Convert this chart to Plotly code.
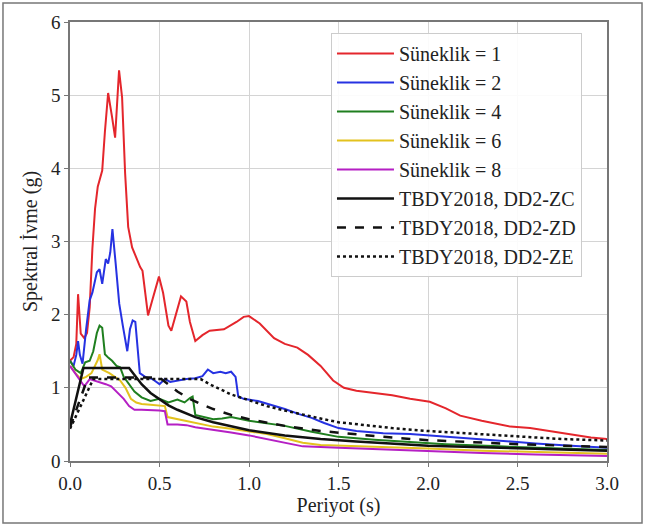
import plotly.graph_objects as go

# ---- data ----
T_mu1 = [0, 0.02, 0.035, 0.045, 0.06, 0.08, 0.095, 0.11, 0.125, 0.14, 0.155, 0.18, 0.195, 0.213, 0.235,
         0.252, 0.274, 0.291, 0.308, 0.325, 0.347, 0.37, 0.392, 0.405, 0.436, 0.46, 0.497, 0.52, 0.55,
         0.566, 0.6, 0.62, 0.65, 0.67, 0.70, 0.74, 0.78, 0.86, 0.93, 0.97, 1.0, 1.06, 1.14, 1.2, 1.27,
         1.33, 1.4, 1.47, 1.53, 1.6, 1.7, 1.8, 1.9, 2.01, 2.1, 2.18, 2.3, 2.46, 2.57, 2.7, 2.8, 2.91, 3.0]
Sa_mu1 = [1.37, 1.42, 1.6, 2.28, 1.74, 1.68, 1.75, 2.1, 2.9, 3.45, 3.75, 3.97, 4.5, 5.03, 4.7,
          4.42, 5.34, 4.97, 3.93, 3.2, 2.92, 2.78, 2.65, 2.6, 1.99, 2.2, 2.52, 2.3, 1.85,
          1.78, 2.1, 2.25, 2.18, 1.9, 1.64, 1.72, 1.78, 1.80, 1.9, 1.97, 1.98, 1.88, 1.68, 1.6, 1.55,
          1.45, 1.3, 1.1, 1.0, 0.96, 0.93, 0.9, 0.85, 0.81, 0.72, 0.62, 0.55, 0.47, 0.45, 0.40, 0.36, 0.32, 0.30]

T_mu2 = [0, 0.02, 0.035, 0.045, 0.055, 0.07, 0.09, 0.11, 0.125, 0.15, 0.165, 0.18, 0.2, 0.213, 0.225,
         0.237, 0.255, 0.275, 0.295, 0.32, 0.335, 0.35, 0.365, 0.375, 0.39, 0.42, 0.46, 0.5, 0.53, 0.56,
         0.6, 0.65, 0.7, 0.74, 0.77, 0.8, 0.84, 0.87, 0.9, 0.925, 0.94, 0.97, 1.05, 1.12, 1.2,
         1.28, 1.35, 1.42, 1.5, 1.6, 1.75, 1.9, 2.0, 2.2, 2.4, 2.6, 2.8, 3.0]
Sa_mu2 = [1.37, 1.30, 1.45, 1.64, 1.45, 1.33, 1.8, 2.2, 2.3, 2.58, 2.62, 2.42, 2.76, 2.7, 2.85,
          3.17, 2.7, 2.15, 1.85, 1.5, 1.8, 1.92, 1.9, 1.6, 1.2, 1.15, 1.12, 1.05, 1.12, 1.08,
          1.1, 1.12, 1.13, 1.16, 1.25, 1.2, 1.22, 1.2, 1.22, 1.15, 0.88, 0.85, 0.82, 0.77, 0.71,
          0.64, 0.59, 0.52, 0.45, 0.41, 0.38, 0.37, 0.35, 0.31, 0.27, 0.24, 0.21, 0.18]

T_mu4 = [0, 0.03, 0.06, 0.085, 0.11, 0.13, 0.15, 0.165, 0.18, 0.195, 0.215, 0.235, 0.26, 0.28, 0.30,
         0.33, 0.36, 0.40, 0.45, 0.50, 0.55, 0.60, 0.64, 0.67, 0.685, 0.70, 0.75, 0.80, 0.85, 0.90,
         1.0, 1.1, 1.2, 1.35, 1.5, 1.7, 1.9, 2.1, 2.4, 2.7, 3.0]
Sa_mu4 = [1.37, 1.25, 1.2, 1.35, 1.37, 1.5, 1.75, 1.85, 1.82, 1.46, 1.41, 1.37, 1.3, 1.28, 1.15,
          1.05, 0.95, 0.87, 0.82, 0.85, 0.80, 0.84, 0.80, 0.86, 0.88, 0.63, 0.60, 0.57, 0.58, 0.60,
          0.55, 0.52, 0.48, 0.40, 0.33, 0.29, 0.26, 0.23, 0.2, 0.17, 0.15]

T_mu6 = [0, 0.03, 0.06, 0.09, 0.12, 0.14, 0.155, 0.165, 0.18, 0.22, 0.25, 0.28, 0.31, 0.34, 0.37,
         0.40, 0.45, 0.50, 0.53, 0.545, 0.60, 0.70, 0.80, 0.90, 1.0, 1.1, 1.2, 1.3, 1.4, 1.6,
         1.8, 2.0, 2.3, 2.6, 3.0]
Sa_mu6 = [1.3, 1.2, 1.12, 1.15, 1.2, 1.3, 1.38, 1.46, 1.25, 1.2, 1.15, 1.1, 1.0, 0.85, 0.8,
          0.78, 0.77, 0.76, 0.75, 0.6, 0.57, 0.52, 0.47, 0.44, 0.41, 0.37, 0.31, 0.25, 0.22, 0.2,
          0.18, 0.17, 0.14, 0.12, 0.1]

T_mu8 = [0, 0.03, 0.06, 0.08, 0.11, 0.14, 0.17, 0.2, 0.23, 0.26, 0.3, 0.33, 0.36, 0.4, 0.45,
         0.5, 0.53, 0.545, 0.6, 0.65, 0.7, 0.8, 0.9, 1.0, 1.1, 1.2, 1.3, 1.5, 1.7, 2.0,
         2.3, 2.6, 3.0]
Sa_mu8 = [1.3, 1.2, 1.1, 1.02, 1.12, 1.1, 1.08, 1.05, 1.02, 0.95, 0.85, 0.75, 0.70, 0.70, 0.70,
          0.69, 0.68, 0.50, 0.50, 0.49, 0.46, 0.43, 0.39, 0.35, 0.30, 0.25, 0.2, 0.18, 0.16, 0.14,
          0.11, 0.09, 0.07]

T_ZC = [0, 0.075, 0.33, 0.36, 0.40, 0.45, 0.50, 0.55, 0.60, 0.70, 0.80, 0.90, 1.00, 1.20, 1.40,
        1.60, 1.80, 2.00, 2.25, 2.50, 2.75, 3.00]
Sa_ZC = [0.50, 1.27, 1.27, 1.17, 1.05, 0.93, 0.84, 0.76, 0.70, 0.60, 0.53, 0.47, 0.42, 0.35, 0.30,
         0.265, 0.235, 0.21, 0.19, 0.17, 0.155, 0.14]

T_ZD = [0, 0.10, 0.50, 0.55, 0.60, 0.66, 0.72, 0.80, 0.90, 1.00, 1.20, 1.40, 1.60, 1.80, 2.00,
        2.25, 2.50, 2.75, 3.00]
Sa_ZD = [0.46, 1.14, 1.14, 1.04, 0.95, 0.86, 0.79, 0.71, 0.63, 0.57, 0.48, 0.41, 0.36, 0.32, 0.285,
         0.255, 0.23, 0.21, 0.19]

T_ZE = [0, 0.13, 0.73, 0.78, 0.84, 0.90, 1.00, 1.10, 1.20, 1.30, 1.40, 1.50, 1.60, 1.80, 2.00,
        2.25, 2.50, 2.75, 3.00]
Sa_ZE = [0.44, 1.12, 1.12, 1.05, 0.98, 0.91, 0.83, 0.75, 0.69, 0.63, 0.58, 0.53, 0.50, 0.45, 0.41,
         0.37, 0.33, 0.30, 0.28]

x_ticks = [0.0, 0.5, 1.0, 1.5, 2.0, 2.5, 3.0]
y_ticks = [0, 1, 2, 3, 4, 5, 6]

FONT = "Liberation Serif, Times New Roman, Times, serif"
TXT = "#222222"

fig = go.Figure()
series = [
    ("Süneklik = 1", T_mu1, Sa_mu1, "#e4262c", 2, "solid"),
    ("Süneklik = 2", T_mu2, Sa_mu2, "#2632e2", 2, "solid"),
    ("Süneklik = 4", T_mu4, Sa_mu4, "#1f7f1f", 2, "solid"),
    ("Süneklik = 6", T_mu6, Sa_mu6, "#e3c21e", 2, "solid"),
    ("Süneklik = 8", T_mu8, Sa_mu8, "#b51fc4", 2, "solid"),
    ("TBDY2018, DD2-ZC", T_ZC, Sa_ZC, "#111111", 2.5, "solid"),
    ("TBDY2018, DD2-ZD", T_ZD, Sa_ZD, "#111111", 2.5, "dash"),
    ("TBDY2018, DD2-ZE", T_ZE, Sa_ZE, "#111111", 2.5, "dot"),
]
for name, xs, ys, col, w, dash in series:
    fig.add_trace(go.Scatter(x=xs, y=ys, mode="lines", name=name,
                             line=dict(color=col, width=w, dash=dash)))

axis_common = dict(showgrid=True, gridcolor="#d4d4d4", gridwidth=1.2,
                   showline=True, linecolor="#777777", linewidth=1.5, mirror=True,
                   ticks="outside", ticklen=4, tickcolor="#777777",
                   tickfont=dict(family=FONT, size=19, color=TXT),
                   zeroline=False)

fig.update_xaxes(range=[0, 3], tickvals=x_ticks, ticktext=[f"{v:.1f}" for v in x_ticks],
                 title=dict(text="Periyot (s)", font=dict(family=FONT, size=20, color=TXT), standoff=4),
                 **axis_common)
fig.update_yaxes(range=[0, 6], tickvals=y_ticks, ticktext=[str(v) for v in y_ticks],
                 title=dict(text="Spektral İvme (g)", font=dict(family=FONT, size=20, color=TXT), standoff=8),
                 **axis_common)

fig.update_layout(
    width=646, height=525,
    margin=dict(l=70, r=39, t=22, b=64),
    paper_bgcolor="white", plot_bgcolor="white",
    font=dict(family=FONT, size=20, color=TXT),
    legend=dict(x=0.486, y=0.975, xanchor="left", yanchor="top",
                bgcolor="rgba(255,255,255,0.9)", bordercolor="#cccccc", borderwidth=1,
                font=dict(family=FONT, size=20, color=TXT),
                itemwidth=57, tracegroupgap=0),
    shapes=[dict(type="rect", xref="paper", yref="paper",
                 x0=-0.1248, x1=1.0652, y0=-0.1412, y1=1.0433,
                 line=dict(color="#777777", width=1.5), fillcolor="rgba(0,0,0,0)", layer="below")],
)

fig.write_html("out.html", config={"displayModeBar": False},
               post_script="document.body.style.margin='0px';")
